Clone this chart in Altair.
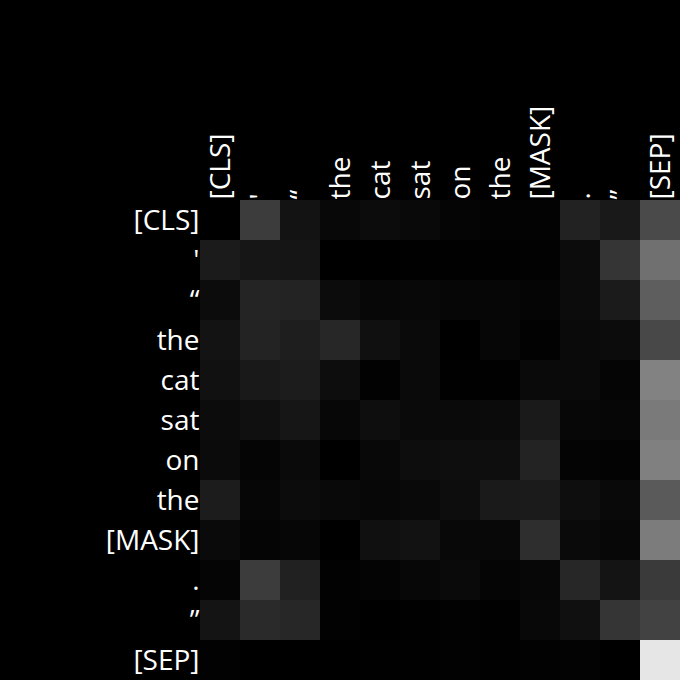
import json
import altair as alt
import pandas as pd

tokens = ["[CLS]", "'", "“", "the", "cat", "sat", "on", "the", "[MASK]", ".", "”", "[SEP]"]

# attention intensity (0-255 gray level) per query row, key column
row_cls   = [0, 60, 19, 8, 12, 9, 5, 3, 3, 34, 25, 74]
row_apos  = [27, 22, 21, 0, 0, 1, 1, 1, 2, 12, 53, 112]
row_lq    = [12, 36, 35, 12, 7, 8, 6, 6, 5, 12, 27, 94]
row_the1  = [19, 35, 30, 39, 16, 10, 0, 6, 2, 10, 12, 72]
row_cat   = [17, 25, 28, 13, 2, 10, 1, 1, 10, 10, 5, 130]
row_sat   = [12, 16, 22, 7, 14, 10, 10, 11, 26, 7, 6, 122]
row_on    = [11, 5, 10, 0, 8, 13, 14, 14, 35, 4, 3, 128]
row_the2  = [28, 6, 12, 9, 7, 9, 13, 26, 27, 14, 9, 90]
row_mask  = [10, 5, 6, 0, 16, 18, 8, 8, 46, 10, 7, 124]
row_dot   = [5, 60, 33, 2, 4, 7, 10, 5, 7, 39, 20, 58]
row_rq    = [20, 42, 39, 2, 0, 1, 2, 1, 8, 16, 53, 66]
row_sep   = [2, 0, 0, 0, 1, 1, 2, 1, 2, 3, 0, 230]

rows = [row_cls, row_apos, row_lq, row_the1, row_cat, row_sat, row_on,
        row_the2, row_mask, row_dot, row_rq, row_sep]

records = []
for i, r in enumerate(rows):
    for j, v in enumerate(r):
        records.append({"row": i, "col": j, "v": v})
df = pd.DataFrame(records)

tok_js = json.dumps(tokens, ensure_ascii=False)
label_expr = f"{tok_js}[datum.value]"

FONT = "Open Sans"
FS = 28

chart = alt.Chart(df).mark_rect().encode(
    x=alt.X("col:O", scale=alt.Scale(paddingInner=0, paddingOuter=0),
            axis=alt.Axis(orient="top", title=None, labelAngle=-90, labelExpr=label_expr,
                          ticks=False, domain=False, labelPadding=1, labelOffset=2,
                          labelColor="white", labelFontSize=FS, labelFont=FONT)),
    y=alt.Y("row:O", scale=alt.Scale(paddingInner=0, paddingOuter=0),
            axis=alt.Axis(title=None, labelExpr=label_expr, ticks=False, domain=False,
                          labelPadding=1, labelOffset=2,
                          labelColor="white", labelFontSize=FS, labelFont=FONT)),
    color=alt.Color("v:Q", scale=alt.Scale(domain=[0, 255], range=["#000000", "#ffffff"],
                                           interpolate="rgb"), legend=None),
).properties(
    width=480, height=480, background="black",
    padding={"left": 200, "top": 200, "right": 0, "bottom": 0},
    autosize=alt.AutoSizeParams(type="none"),
).configure_view(stroke=None)

chart.save("out.html", embed_options={"renderer": "svg", "actions": False})
